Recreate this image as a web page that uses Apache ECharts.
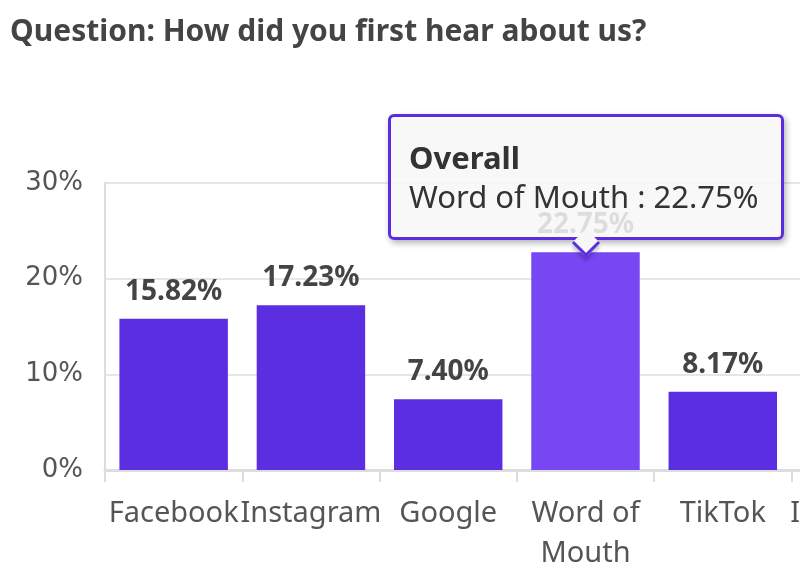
<!DOCTYPE html>
<html>
<head>
<meta charset="utf-8">
<style>
html,body{margin:0;padding:0;overflow:hidden;background:#fff;width:800px;height:576px;}
#chart{width:1100px;height:576px;}
</style>
<script src="https://cdn.jsdelivr.net/npm/echarts@6/dist/echarts.min.js"></script>
</head>
<body>
<div id="chart"></div>
<script>
var titleText = 'Question: How did you first hear about us?';
var seriesName = 'Overall';
var categories = ['Facebook', 'Instagram', 'Google', 'Word of Mouth', 'TikTok', 'Influencer', 'Other'];
var values = [15.82, 17.23, 7.40, 22.75, 8.17, 6.50, 5.00];
var yTicks = [0, 10, 20, 30];
var highlightIndex = 3;

var FONT = '"Noto Sans"';
var ARROW = '<div style="position:absolute;left:50%;bottom:-16px;width:17px;height:17px;z-index:-1;' +
  'transform:translateX(-50%) rotate(45deg);background:#f7f7f7;' +
  'border-right:3px solid #5a2de0;border-bottom:3px solid #5a2de0;box-shadow:3px 3px 4px rgba(0,0,0,0.22);"></div>';

var chart = echarts.init(document.getElementById('chart'), null, {renderer: 'canvas'});
chart.setOption({
  animation: false,
  title: {
    text: titleText, left: 10, top: 17, padding: 0,
    textStyle: {fontFamily: FONT, fontSize: 30, fontWeight: 'bold', color: '#444'}
  },
  grid: {left: 105, right: 34, top: 183, bottom: 106, containLabel: false},
  tooltip: {
    trigger: 'item',
    confine: false,
    position: function (point, params, dom, rect, size) {
      var w = size.contentSize[0], h = size.contentSize[1];
      return [rect.x + rect.width / 2 - w / 2, rect.y - h - 12];
    },
    backgroundColor: 'rgba(247,247,247,0.86)',
    borderColor: '#5a2de0',
    borderWidth: 3,
    borderRadius: 6,
    padding: [21, 22, 21, 18],
    extraCssText: 'box-shadow: 2px 3px 6px rgba(0,0,0,0.3);',
    textStyle: {fontFamily: FONT, fontSize: 31, color: '#333', lineHeight: 39},
    formatter: function (p) {
      return '<div style="font-family:\'Noto Sans\';font-weight:bold;font-size:31px;line-height:39px;color:#333">' + p.seriesName + '</div>' +
        '<div style="font-family:\'Noto Sans\';font-size:31px;line-height:39px;color:#333">' + p.name + ' : ' + p.value.toFixed(2) + '%</div>' + ARROW;
    }
  },
  xAxis: {
    type: 'category',
    data: categories,
    axisLine: {show: true, lineStyle: {color: '#dddddd', width: 3}},
    axisTick: {show: true, length: 12, lineStyle: {color: '#dddddd', width: 2}},
    axisLabel: {
      interval: 0, margin: 24, fontFamily: FONT, fontSize: 29, color: '#555', lineHeight: 40,
      formatter: function (v) { return v === 'Word of Mouth' ? 'Word of\nMouth' : v; }
    }
  },
  yAxis: {
    type: 'value', min: yTicks[0], max: yTicks[yTicks.length - 1], interval: 10,
    axisLine: {show: true, lineStyle: {color: '#dddddd', width: 2}},
    axisTick: {show: false},
    splitLine: {lineStyle: {color: '#e6e6e6', width: 2}},
    axisLabel: {fontFamily: '"DejaVu Sans"', fontSize: 26, color: '#555', margin: 22, formatter: '{value}%'}
  },
  series: [{
    name: seriesName,
    type: 'bar',
    data: values,
    barWidth: '79%',
    itemStyle: {color: '#5b2ee1'},
    emphasis: {itemStyle: {color: '#7747f3'}, label: {color: '#444'}},
    label: {
      show: true, position: 'top', distance: 13,
      fontFamily: FONT, fontSize: 28, fontWeight: 'bold', color: '#444',
      formatter: function (p) { return p.value.toFixed(2) + '%'; }
    }
  }]
});
chart.dispatchAction({type: 'highlight', seriesIndex: 0, dataIndex: highlightIndex});
chart.dispatchAction({type: 'showTip', seriesIndex: 0, dataIndex: highlightIndex});
</script>
</body>
</html>
